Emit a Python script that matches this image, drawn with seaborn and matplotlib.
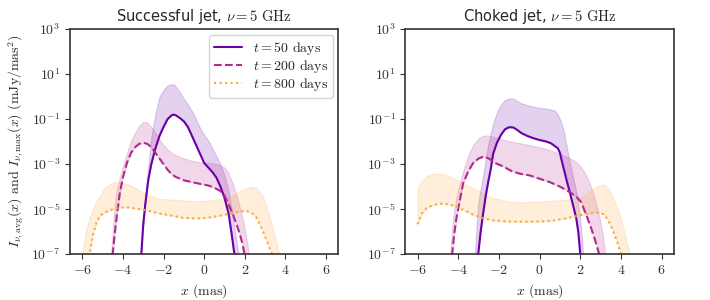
import numpy as np
import matplotlib
matplotlib.use("Agg")
import matplotlib.pyplot as plt
import seaborn as sns

# values are log10 of intensity (mJy/mas^2)
# --- successful jet ---
s50_x = [-3.2, -3.1, -3.0, -2.9, -2.75, -2.6, -2.4, -2.2, -2.0, -1.8, -1.6, -1.5, -1.4, -1.2, -1.0,
         -0.8, -0.6, -0.4, -0.2, 0.0, 0.2, 0.4, 0.6, 0.8, 1.0, 1.2, 1.35, 1.5, 1.6, 1.7, 1.8]
s50_avg = [-8.5, -7.1, -5.7, -4.8, -3.7, -3.0, -2.3, -1.75, -1.35, -1.0, -0.83, -0.8, -0.83, -0.95, -1.1,
           -1.35, -1.75, -2.15, -2.55, -2.95, -3.15, -3.35, -3.6, -4.0, -4.5, -5.2, -6.1, -7.1, -8.0, -9.0, -9.5]
s50_max = [-8.0, -6.8, -5.8, -4.5, -3.1, -1.8, -0.75, 0.0, 0.3, 0.5, 0.55, 0.55, 0.45, 0.2, -0.1,
           -0.35, -0.65, -1.0, -1.4, -1.7, -1.95, -2.3, -2.65, -3.0, -3.5, -4.2, -5.0, -5.9, -6.5, -7.1, -7.8]

s200_x = [-4.7, -4.6, -4.5, -4.4, -4.3, -4.15, -4.0, -3.8, -3.6, -3.4, -3.2, -3.0, -2.8, -2.6, -2.4, -2.2,
          -2.0, -1.8, -1.6, -1.4, -1.0, -0.6, -0.2, 0.2, 0.5, 0.8, 1.0, 1.2, 1.4, 1.6, 1.75, 1.9, 2.0,
          2.1, 2.2, 2.3]
s200_avg = [-8.5, -7.5, -7.0, -6.1, -5.3, -4.3, -3.6, -2.95, -2.5, -2.25, -2.1, -2.05, -2.1, -2.25, -2.5, -2.75,
            -3.0, -3.25, -3.45, -3.57, -3.72, -3.8, -3.88, -3.95, -4.05, -4.2, -4.4, -4.8, -5.2, -5.7, -6.1, -6.6, -7.1,
            -8.0, -9.0, -9.5]
s200_max = [-8.0, -7.2, -6.0, -4.8, -4.1, -3.6, -3.1, -2.5, -1.95, -1.6, -1.3, -1.12, -1.15, -1.35, -1.6, -1.9,
            -2.15, -2.35, -2.5, -2.6, -2.75, -2.85, -2.92, -2.95, -2.97, -3.05, -3.15, -3.4, -3.85, -4.4, -4.9, -5.45, -5.9,
            -6.4, -7.0, -7.8]

s800_x = [-6.0, -5.8, -5.64, -5.46, -5.3, -5.13, -4.9, -4.5, -4.1, -3.75, -3.4, -2.85, -2.2, -1.7, -1.1, -0.5,
          0.0, 0.4, 0.9, 1.4, 1.8, 2.1, 2.35, 2.55, 2.75, 2.9, 3.05, 3.2, 3.33, 3.5, 3.7]
s800_avg = [-7.8, -7.3, -7.0, -6.1, -5.6, -5.3, -5.15, -5.0, -4.93, -4.92, -4.97, -5.05, -5.2, -5.27, -5.38, -5.41,
            -5.4, -5.35, -5.27, -5.18, -5.1, -5.08, -5.18, -5.35, -5.7, -6.0, -6.35, -6.7, -7.0, -7.6, -8.2]
s800_max = [-6.9, -5.9, -5.4, -4.95, -4.65, -4.4, -4.05, -3.82, -3.78, -3.9, -4.05, -4.35, -4.55, -4.57, -4.6, -4.65,
            -4.63, -4.6, -4.55, -4.4, -4.18, -4.08, -4.0, -4.05, -4.25, -4.45, -4.85, -5.3, -5.75, -6.3, -7.05]

# --- choked jet ---
c50_x = [-3.2, -3.1, -3.02, -2.9, -2.78, -2.65, -2.53, -2.4, -2.29, -2.1, -1.9, -1.7, -1.5, -1.3, -1.1, -0.9,
         -0.6, -0.3, 0.0, 0.3, 0.55, 0.75, 0.9, 1.0, 1.1, 1.2, 1.35, 1.5, 1.65, 1.8, 1.9, 2.0, 2.1, 2.15]
c50_avg = [-8.5, -7.5, -7.0, -6.0, -5.2, -4.4, -3.8, -3.2, -2.55, -2.05, -1.7, -1.45, -1.36, -1.37, -1.48, -1.62,
           -1.75, -1.85, -1.93, -1.99, -2.07, -2.2, -2.3, -2.5, -2.9, -3.25, -3.8, -4.3, -4.85, -5.4, -6.0, -7.0, -8.5, -9.0]
c50_max = [-7.2, -5.8, -4.7, -4.1, -3.5, -2.75, -2.15, -1.6, -1.2, -0.7, -0.35, -0.15, -0.08, -0.08, -0.2, -0.3,
           -0.38, -0.45, -0.5, -0.53, -0.57, -0.63, -0.8, -1.0, -1.25, -1.6, -2.3, -3.0, -3.6, -4.2, -4.8, -5.5, -6.5, -7.2]

c200_x = [-4.5, -4.4, -4.3, -4.2, -4.08, -3.9, -3.76, -3.5, -3.27, -3.0, -2.75, -2.5, -2.2, -1.8, -1.4, -1.0,
          -0.5, 0.0, 0.5, 1.0, 1.4, 1.8, 2.05, 2.29, 2.5, 2.7, 2.85, 2.94, 3.1, 3.25]
c200_avg = [-8.5, -7.6, -7.0, -6.1, -5.33, -4.5, -3.84, -3.3, -2.95, -2.75, -2.66, -2.75, -2.95, -3.1, -3.3, -3.42,
            -3.5, -3.65, -3.8, -4.0, -4.2, -4.44, -4.7, -5.25, -5.75, -6.3, -6.75, -7.05, -7.8, -8.5]
c200_max = [-8.0, -7.0, -5.8, -5.0, -4.4, -3.75, -3.3, -2.6, -2.15, -1.85, -1.73, -1.73, -1.82, -1.92, -2.0, -2.07,
            -2.15, -2.25, -2.37, -2.55, -2.7, -2.9, -3.15, -3.5, -3.95, -4.5, -5.0, -5.35, -6.1, -7.2]

c800_x = [-6.0, -5.8, -5.56, -5.2, -4.74, -4.3, -4.08, -3.6, -3.27, -2.8, -2.29, -1.6, -1.0, 0.0, 0.6, 1.14,
          1.6, 2.12, 2.6, 2.94, 3.19, 3.4, 3.59, 3.84, 4.0, 4.2, 4.45]
c800_avg = [-5.67, -5.2, -4.96, -4.8, -4.75, -4.83, -4.9, -5.1, -5.25, -5.4, -5.5, -5.55, -5.56, -5.55, -5.52, -5.44,
            -5.35, -5.25, -5.17, -5.15, -5.25, -5.55, -5.92, -6.51, -7.0, -7.6, -8.5]
c800_max = [-4.07, -3.75, -3.55, -3.42, -3.45, -3.6, -3.7, -3.92, -4.05, -4.3, -4.5, -4.65, -4.7, -4.66, -4.63, -4.59,
            -4.55, -4.45, -4.1, -3.95, -3.92, -4.1, -4.5, -5.0, -5.45, -6.15, -7.1]

titles = [r"Successful jet, $\nu = 5\ \mathrm{GHz}$", r"Choked jet, $\nu = 5\ \mathrm{GHz}$"]
labels = [r"$t = 50$ days", r"$t = 200$ days", r"$t = 800$ days"]
colors = ["#6a00a8", "#b12a90", "#fca636"]
styles = ["-", "--", ":"]

panels = [
    [(s50_x, s50_avg, s50_max), (s200_x, s200_avg, s200_max), (s800_x, s800_avg, s800_max)],
    [(c50_x, c50_avg, c50_max), (c200_x, c200_avg, c200_max), (c800_x, c800_avg, c800_max)],
]

sns.set_style("ticks")
plt.rcParams.update({
    "font.family": "serif",
    "font.serif": ["cmr10"],
    "mathtext.fontset": "cm",
    "axes.formatter.use_mathtext": True,
    "font.size": 10,
    "axes.edgecolor": "#333333",
    "axes.linewidth": 1.2,
    "xtick.color": "#333333",
    "ytick.color": "#333333",
})

fig, axes = plt.subplots(1, 2, figsize=(7.1, 3.0), dpi=100)
fig.subplots_adjust(left=0.0986, right=0.949, bottom=0.153, top=0.903, wspace=0.25)

for ax, title, series in zip(axes, titles, panels):
    for (x, lavg, lmax), lab, col, ls in zip(series, labels, colors, styles):
        x = np.array(x)
        yavg = 10.0 ** np.array(lavg)
        ymax = 10.0 ** np.array(lmax)
        ax.fill_between(x, yavg, ymax, color=col, alpha=0.18, linewidth=0.8)
        sns.lineplot(x=x, y=yavg, ax=ax, color=col, linestyle=ls, linewidth=1.5, label=lab)
    ax.set_yscale("log")
    ax.set_ylim(1e-7, 1e3)
    ax.set_xlim(-6.6, 6.6)
    ax.set_yticks([1e-7, 1e-5, 1e-3, 1e-1, 1e1, 1e3])
    ax.yaxis.set_minor_locator(matplotlib.ticker.NullLocator())
    ax.set_xticks([-6, -4, -2, 0, 2, 4, 6])
    ax.set_xlabel(r"$x$ (mas)")
    ax.set_title(title, family=["DejaVu Sans"], fontsize=10.5)

axes[0].set_ylabel(r"$I_{\nu,\mathrm{avg}}(x)$ and $I_{\nu,\mathrm{max}}(x)$ (mJy/mas$^2$)")
axes[0].legend(loc="upper right", fontsize=10, labelspacing=0.1, handlelength=2.0,
               borderaxespad=0.4, borderpad=0.35)
axes[1].get_legend().remove()

fig.savefig("out.png", dpi=100)
